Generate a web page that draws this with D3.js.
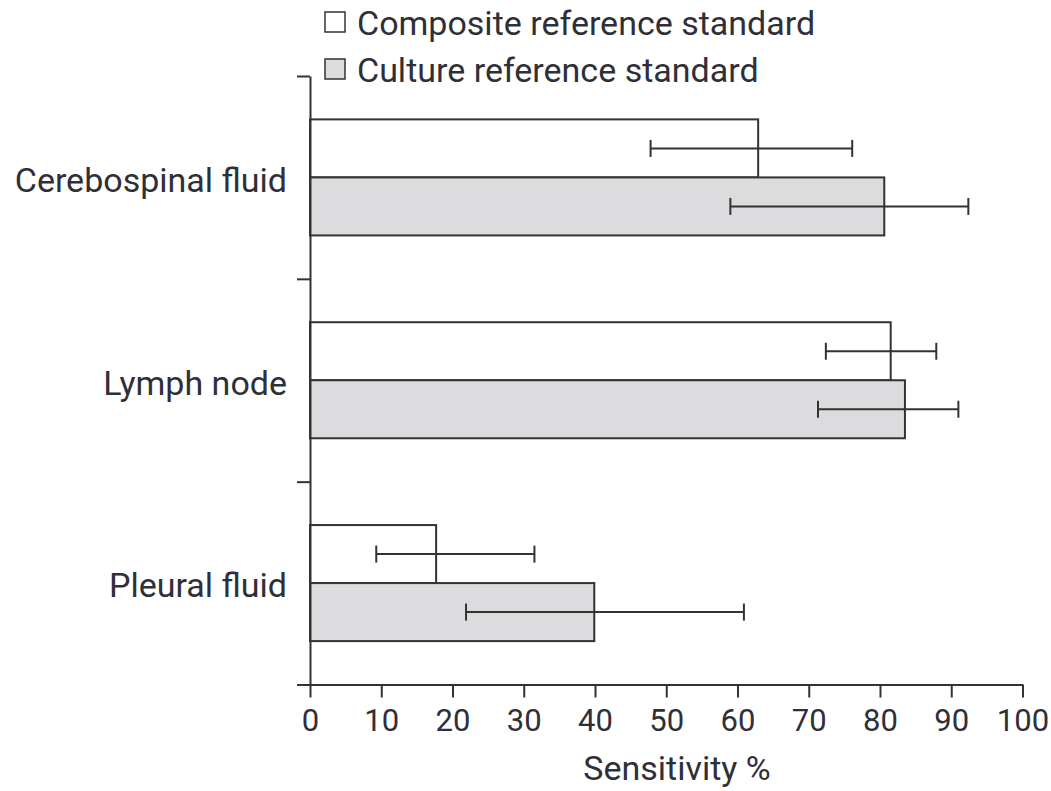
<!DOCTYPE html>
<html>
<head>
<meta charset="utf-8">
<script src="https://cdn.jsdelivr.net/npm/d3@7"></script>
<style>
  html, body { margin: 0; padding: 0; background: #fff; }
  svg { display: block; }
  text { font-family: Roboto, "Noto Sans", sans-serif; fill: #2f2f38; }
</style>
</head>
<body>
<svg id="chart" width="1051" height="791"></svg>
<script>
// ---- data ----
const categories = ["Cerebospinal fluid", "Lymph node", "Pleural fluid"];
const seriesNames = ["Composite reference standard", "Culture reference standard"];
const compositeValues = [62.9, 81.5, 17.7];
const compositeLow    = [47.8, 72.4, 9.3];
const compositeHigh   = [76.1, 87.9, 31.5];
const cultureValues   = [80.6, 83.5, 39.9];
const cultureLow      = [59.0, 71.3, 21.9];
const cultureHigh     = [92.4, 91.0, 60.9];
const xTicks = [0, 10, 20, 30, 40, 50, 60, 70, 80, 90, 100];
const xTitle = "Sensitivity %";

// ---- layout ----
const mLeft = 310, mRight = 1022.5, mTop = 76, mBottom = 684.5;
const svg = d3.select("#chart");
const stroke = "#333";
const fills = ["#ffffff", "#dcdcdf"];

const x = d3.scaleLinear().domain([0, 100]).range([mLeft, mRight]);
const y = d3.scaleBand().domain(categories).range([mTop, mBottom]).padding(0);
const sub = d3.scaleBand().domain(seriesNames).range([0, y.bandwidth()])
  .paddingInner(0).paddingOuter(0.748);

const rows = [];
categories.forEach((c, i) => {
  rows.push({cat: c, s: seriesNames[0], v: compositeValues[i], lo: compositeLow[i], hi: compositeHigh[i], f: fills[0]});
  rows.push({cat: c, s: seriesNames[1], v: cultureValues[i], lo: cultureLow[i], hi: cultureHigh[i], f: fills[1]});
});

// bars
svg.append("g").selectAll("rect").data(rows).join("rect")
  .attr("x", x(0))
  .attr("y", d => y(d.cat) + sub(d.s))
  .attr("width", d => x(d.v) - x(0))
  .attr("height", sub.bandwidth())
  .attr("fill", d => d.f)
  .attr("stroke", stroke)
  .attr("stroke-width", 2);

// error bars
const capH = 17;
const eg = svg.append("g").attr("stroke", stroke).attr("stroke-width", 2);
rows.forEach(d => {
  const cy = y(d.cat) + sub(d.s) + sub.bandwidth() / 2;
  eg.append("line").attr("x1", x(d.lo)).attr("x2", x(d.hi)).attr("y1", cy).attr("y2", cy);
  eg.append("line").attr("x1", x(d.lo)).attr("x2", x(d.lo)).attr("y1", cy - capH/2).attr("y2", cy + capH/2);
  eg.append("line").attr("x1", x(d.hi)).attr("x2", x(d.hi)).attr("y1", cy - capH/2).attr("y2", cy + capH/2);
});

// y axis (boundary ticks)
const yLin = d3.scaleLinear().domain([0, categories.length]).range([mBottom, mTop]);
const yAxis = svg.append("g").attr("transform", `translate(${mLeft},0)`)
  .call(d3.axisLeft(yLin).tickValues(d3.range(categories.length + 1)).tickSize(13).tickSizeOuter(0).tickFormat(""));
yAxis.selectAll("path, line").attr("stroke", stroke).attr("stroke-width", 2);

// category labels
svg.append("g").selectAll("text").data(categories).join("text")
  .attr("x", 287)
  .attr("y", d => y(d) + y.bandwidth() / 2)
  .attr("dy", "0.42em")
  .attr("text-anchor", "end")
  .attr("font-size", 34)
  .text(d => d);

// x axis
const xAxis = svg.append("g").attr("transform", `translate(0,${mBottom})`)
  .call(d3.axisBottom(x).tickValues(xTicks).tickSize(13).tickSizeOuter(0).tickPadding(11));
xAxis.selectAll("path, line").attr("stroke", stroke).attr("stroke-width", 2);
xAxis.selectAll("text").attr("font-size", 31).attr("fill", "#2f2f38").style("font-family", "Roboto, 'Noto Sans', sans-serif");

svg.append("text").attr("x", 677).attr("y", 780)
  .attr("text-anchor", "middle").attr("font-size", 34).text(xTitle);

// legend
const lg = svg.append("g");
seriesNames.forEach((s, i) => {
  const yy = 12 + i * 47;
  lg.append("rect").attr("x", 325).attr("y", yy).attr("width", 20).attr("height", 20)
    .attr("fill", fills[i]).attr("stroke", stroke).attr("stroke-width", 1.5);
  lg.append("text").attr("x", 357).attr("y", 35 + i * 47)
    .attr("font-size", 34).text(s);
});
</script>
</body>
</html>
